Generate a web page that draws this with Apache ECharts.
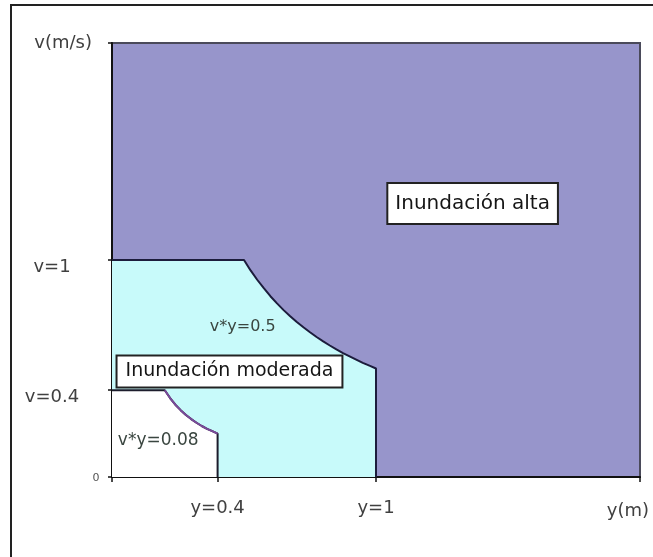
<!DOCTYPE html>
<html>
<head>
<meta charset="utf-8">
<script src="https://cdn.jsdelivr.net/npm/echarts@6/dist/echarts.min.js"></script>
<style>
html,body{margin:0;padding:0;background:#fff;}
#chart{width:653px;height:557px;}
</style>
</head>
<body>
<div id="chart"></div>
<script>
// Axis tick values and labels
var xTickValues = [0.4, 1];
var yTickValues = [0, 0.4, 1];
var xMax = 2, yMax = 2;

// Boundary of "Inundación moderada" region (y in m, v in m/s), curve v*y=0.5
var moderateY = [0, 0.5, 0.525, 0.55, 0.575, 0.6, 0.625, 0.65, 0.675, 0.7, 0.725, 0.75, 0.775, 0.8, 0.825, 0.85, 0.875, 0.9, 0.925, 0.95, 0.975, 1.0, 1.0];
var moderateV = [1, 1.0, 0.952, 0.909, 0.870, 0.833, 0.8, 0.769, 0.741, 0.714, 0.690, 0.667, 0.645, 0.625, 0.606, 0.588, 0.571, 0.556, 0.541, 0.526, 0.513, 0.5, 0];

// Boundary of the low (white) region, curve v*y=0.08
var lowY = [0, 0.2, 0.22, 0.24, 0.26, 0.28, 0.3, 0.32, 0.34, 0.36, 0.38, 0.4, 0.4];
var lowV = [0.4, 0.4, 0.364, 0.333, 0.308, 0.286, 0.267, 0.25, 0.235, 0.222, 0.211, 0.2, 0];

// Curve v*y=0.08 drawn in purple
var lowCurveY = [0.2, 0.22, 0.24, 0.26, 0.28, 0.3, 0.32, 0.34, 0.36, 0.38, 0.4];
var lowCurveV = [0.4, 0.364, 0.333, 0.308, 0.286, 0.267, 0.25, 0.235, 0.222, 0.211, 0.2];

// Text annotations
var annotationNames = ['Inundación alta', 'Inundación moderada', 'v*y=0.5', 'v*y=0.08'];
var annotationY = [1.366, 0.445, 0.495, 0.175];
var annotationV = [1.26, 0.486, 0.69, 0.17];
var annotationBoxed = [true, true, false, false];

function zip(a, b) { return a.map(function (x, i) { return [x, b[i]]; }); }

var FONT = 'DejaVu Sans';
var TXT = '#404040';

var annotationData = annotationNames.map(function (n, i) {
  var boxed = annotationBoxed[i];
  return {
    value: [annotationY[i], annotationV[i]], name: n,
    label: boxed ? {
      backgroundColor: '#ffffff', borderColor: '#222', borderWidth: 2,
      padding: i === 0 ? [10, 7, 9, 7] : [6, 8, 5, 8], color: '#151515',
      fontSize: i === 0 ? 20 : 19, opacity: 1
    } : { color: '#3a4640', fontSize: i === 3 ? 17 : 16, opacity: 1 }
  };
});

var chart = echarts.init(document.getElementById('chart'));
chart.setOption({
  animation: false,
  backgroundColor: '#fff',
  textStyle: { fontFamily: FONT },
  graphic: [{
    type: 'rect',
    shape: { x: 11, y: 5, width: 700, height: 600 },
    style: { fill: 'none', stroke: '#222', lineWidth: 2 },
    z: 100
  }],
  grid: {
    left: 112, top: 43, width: 528, height: 434,
    show: true, backgroundColor: '#9795CB', borderColor: '#4a4a5a', borderWidth: 2
  },
  xAxis: {
    type: 'value', min: 0, max: xMax,
    name: 'y(m)', nameLocation: 'end', nameGap: 9,
    nameTextStyle: { color: TXT, fontSize: 18, fontFamily: FONT, align: 'right', verticalAlign: 'top', padding: [25, 0, 0, 0] },
    splitLine: { show: false },
    axisLine: { show: true, lineStyle: { color: '#111', width: 2 } },
    axisTick: { show: true, customValues: [0, 0.4, 1, 2], length: 5, lineStyle: { color: '#111', width: 1.5 } },
    axisLabel: {
      customValues: xTickValues, margin: 22, color: TXT, fontSize: 18, fontFamily: FONT,
      formatter: function (v) { return 'y=' + v; }
    }
  },
  yAxis: {
    type: 'value', min: 0, max: yMax,
    name: 'v(m/s)', nameLocation: 'end', nameGap: 0,
    nameTextStyle: { color: TXT, fontSize: 18, fontFamily: FONT, align: 'right', verticalAlign: 'middle', padding: [9, 20, 0, 0] },
    splitLine: { show: false },
    axisLine: { show: true, lineStyle: { color: '#111', width: 2 } },
    axisTick: { show: true, customValues: [0, 0.4, 1, 2], length: 4, lineStyle: { color: '#111', width: 1.5 } },
    axisLabel: {
      customValues: yTickValues, align: 'center', margin: 60, color: TXT, fontSize: 18, fontFamily: FONT,
      formatter: function (v) { return v === 0 ? '{z|0}' : '{v|v=' + v + '}'; },
      rich: {
        z: { padding: [2, 0, 0, 88], fontSize: 11, color: '#555', fontFamily: FONT },
        v: { padding: [15, 0, 0, 0], fontSize: 18, color: TXT, fontFamily: FONT }
      }
    }
  },
  series: [
    {
      type: 'line', data: zip(moderateY, moderateV), symbol: 'none',
      lineStyle: { color: '#1c1c3c', width: 2 },
      areaStyle: { color: '#C8FAFA', opacity: 1 }, z: 2
    },
    {
      type: 'line', data: zip(lowY, lowV), symbol: 'none',
      lineStyle: { color: '#1c1c2c', width: 2 },
      areaStyle: { color: '#ffffff', opacity: 1 }, z: 3
    },
    {
      type: 'line', data: zip(lowCurveY, lowCurveV), symbol: 'none',
      lineStyle: { color: '#7a4a9a', width: 2 }, z: 4
    },
    {
      type: 'scatter', symbolSize: 0, z: 10,
      itemStyle: { opacity: 1, color: 'rgba(0,0,0,0)' },
      data: annotationData,
      label: {
        show: true, position: 'inside', formatter: function (p) { return p.name; },
        fontFamily: FONT
      }
    }
  ]
});
</script>
</body>
</html>
